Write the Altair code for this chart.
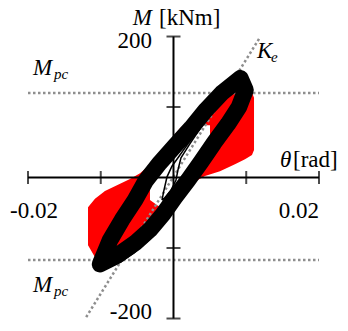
import altair as alt
import pandas as pd

# Plot-area ranges: rotation theta [rad] and moment M [kNm]
X_DOMAIN = [-0.02385, 0.02399]
Y_DOMAIN = [-217.7, 251.8]

# Red specimen: region swept by its hysteresis cycles (upper / lower moment per rotation)
red_theta = [-0.01175, -0.01079, -0.00942, -0.00777, -0.00598, -0.00460, -0.00323, -0.00186,
             -0.00048, 0.00089, 0.00254, 0.00433, 0.00639, 0.00845, 0.00983, 0.01079, 0.01107]
red_upper = [-42, -30, -19, -11, -2, 6, 18, 35, 53, 70, 84, 103, 121, 131, 131, 121, 113]
red_lower = [-96, -113, -120, -113, -100, -89, -77, -62, -39, -21, -8, 2, 9, 19, 26, 32, 39]

# Region inside the cycles that is never reached
hole_theta = [-0.00323, -0.00213, -0.00103, 0.00021, 0.00158, 0.00296, 0.00406, 0.00502]
hole_upper = [-4, 11, 25, 39, 56, 70, 74, 74]
hole_lower = [-32, -40, -43, -39, -18, 8, 28, 46]

# Black specimen: large cycles (closed path)
loop_theta = [-0.01010, -0.00873, -0.00708, -0.00529, -0.00378, -0.00186, 0.00021, 0.00241,
              0.00447, 0.00667, 0.00920, 0.00990, 0.00900, 0.00749, 0.00557, 0.00378,
              0.00199, 0.00021, -0.00144, -0.00323, -0.00529, -0.00763, -0.01010]
loop_m = [-123, -89, -60, -32, -4, 21, 45, 70, 96, 120, 141, 124, 100, 76, 49, 22,
          -4, -28, -52, -74, -93, -110, -123]

# Black specimen: first small cycles near the origin
small_theta = [-0.00158, -0.00131, -0.00089, -0.00021, 0.00089, 0.00227, 0.00364, 0.00461,
               0.00364, 0.00227, 0.00103, 0.00062, 0.00034, -0.00034, -0.00131, -0.00158]
small_m = [-32, -18, 1, 16, 32, 52, 73, 87, 69, 48, 28, 11, -4, -18, -30, -32]

# Black specimen: final branch below the large cycles
env_theta = [-0.00900, -0.00735, -0.00543, -0.00364, -0.00227, -0.00131, -0.00076]
env_m = [-128, -120, -107, -91, -76, -60, -49]

# Elastic stiffness line K_e and plastic moment levels M_pc
ke_theta = [-0.0120, 0.0119]
ke_m = [-198, 199]
mpc_levels = [120, -117]
mpc_span = [-0.02, 0.02]

# Axis ticks and labels
x_ticks = [-0.02, -0.01, 0.01, 0.02]
y_ticks = [200, 100, -100, -200]
x_axis_span = [-0.02, 0.02]
y_axis_span = [-200, 200]

FONT = "Liberation Serif"
FS = 23
SUB = 15
GRAY = "#8e8e8e"


def X(field):
    return alt.X(field, type="quantitative",
                 scale=alt.Scale(domain=X_DOMAIN, nice=False, zero=False), axis=None)


def Y(field):
    return alt.Y(field, type="quantitative",
                 scale=alt.Scale(domain=Y_DOMAIN, nice=False, zero=False), axis=None)


red_df = pd.DataFrame({"theta": red_theta, "upper": red_upper, "lower": red_lower})
hole_df = pd.DataFrame({"theta": hole_theta, "upper": hole_upper, "lower": hole_lower})
loop_df = pd.DataFrame({"theta": loop_theta, "m": loop_m, "i": range(len(loop_m))})
small_df = pd.DataFrame({"theta": small_theta, "m": small_m, "i": range(len(small_m))})
env_df = pd.DataFrame({"theta": env_theta, "m": env_m, "i": range(len(env_m))})
ke_df = pd.DataFrame({"theta": ke_theta, "m": ke_m})
mpc_df = pd.DataFrame({"x0": [mpc_span[0]] * 2, "x1": [mpc_span[1]] * 2, "m": mpc_levels})
xt_df = pd.DataFrame({"theta": x_ticks, "m": [0] * len(x_ticks)})
yt_df = pd.DataFrame({"theta": [0] * len(y_ticks), "m": y_ticks})
hax_df = pd.DataFrame({"x0": [x_axis_span[0]], "x1": [x_axis_span[1]], "m": [0]})
vax_df = pd.DataFrame({"theta": [0], "y0": [y_axis_span[0]], "y1": [y_axis_span[1]]})

red = alt.Chart(red_df).mark_area(color="#ff0000", opacity=1).encode(
    x=X("theta"), y=Y("upper"), y2=alt.Y2("lower"))
hole = alt.Chart(hole_df).mark_area(color="white", opacity=1).encode(
    x=X("theta"), y=Y("upper"), y2=alt.Y2("lower"))

ke = alt.Chart(ke_df).mark_line(color=GRAY, strokeWidth=2.5, strokeDash=[2.5, 2.5]).encode(
    x=X("theta"), y=Y("m"))
mpc = alt.Chart(mpc_df).mark_rule(color=GRAY, strokeWidth=2.5, strokeDash=[2.5, 2.5]).encode(
    x=X("x0"), x2="x1", y=Y("m"))

hax = alt.Chart(hax_df).mark_rule(color="black", strokeWidth=2).encode(
    x=X("x0"), x2="x1", y=Y("m"))
vax = alt.Chart(vax_df).mark_rule(color="black", strokeWidth=2).encode(
    x=X("theta"), y=Y("y0"), y2="y1")
xticks = alt.Chart(xt_df).mark_tick(color="black", orient="vertical", size=13, thickness=2).encode(
    x=X("theta"), y=Y("m"))
yticks = alt.Chart(yt_df).mark_tick(color="black", orient="horizontal", size=14, thickness=2).encode(
    x=X("theta"), y=Y("m"))

loop = alt.Chart(loop_df).mark_line(color="black", strokeWidth=16.5, strokeJoin="round",
                                    strokeCap="round").encode(
    x=X("theta"), y=Y("m"), order="i:Q")
small = alt.Chart(small_df).mark_line(color="black", strokeWidth=1.5).encode(
    x=X("theta"), y=Y("m"), order="i:Q")
env = alt.Chart(env_df).mark_line(color="black", strokeWidth=1.5).encode(
    x=X("theta"), y=Y("m"), order="i:Q")


def label(text, theta, m, dx, dy, align="left", size=FS, italic=False):
    df = pd.DataFrame({"t": [text], "theta": [theta], "m": [m]})
    return alt.Chart(df).mark_text(
        font=FONT, fontSize=size, fontStyle="italic" if italic else "normal",
        align=align, baseline="alphabetic", dx=dx, dy=dy, color="black"
    ).encode(x=X("theta"), y=Y("m"), text="t:N")


texts = [
    label("M", 0, 200, -21.5, -11.5, align="right", italic=True),
    label("[kNm]", 0, 200, -14.5, -11.5),
    label("θ", 0.02, 0, -39, -10.5, italic=True),
    label("[rad]", 0.02, 0, -26, -10.5),
    label("200", 0, 200, -21.5, 11.5, align="right"),
    label("-200", 0, -200, -21.5, 0.5, align="right"),
    label("-0.02", -0.02, 0, -18, 40.5),
    label("0.02", 0.02, 0, 0, 40.5, align="right"),
    label("M", -0.02, mpc_levels[0], 5, -18, italic=True),
    label("pc", -0.02, mpc_levels[0], 26, -14, size=SUB, italic=True),
    label("M", -0.02, mpc_levels[1], 5, 32, italic=True),
    label("pc", -0.02, mpc_levels[1], 26, 36, size=SUB, italic=True),
    label("K", ke_theta[1], ke_m[1], -3, 21, italic=True),
    label("e", ke_theta[1], ke_m[1], 11, 25, size=SUB, italic=True),
]

chart = alt.layer(red, hole, ke, mpc, hax, vax, xticks, yticks, loop, small, env, *texts).properties(
    width=348, height=331,
    autosize=alt.AutoSizeParams(type="none"),
    padding=0,
).configure_view(stroke=None)

chart.save("out.html", embed_options={"renderer": "svg", "actions": False})
